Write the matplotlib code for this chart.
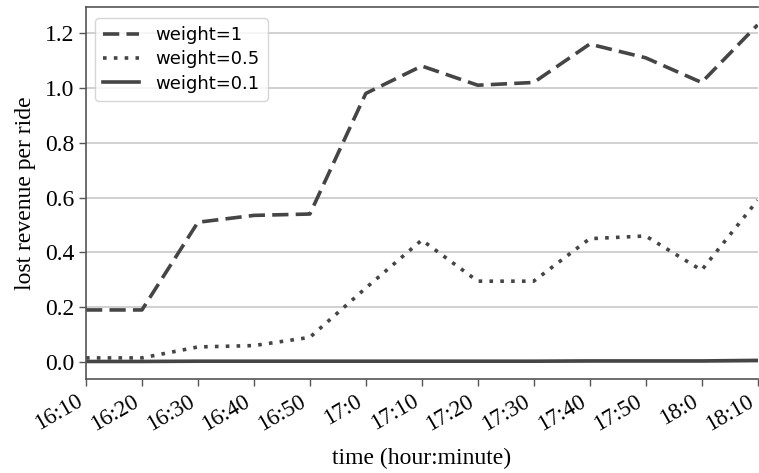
import matplotlib.pyplot as plt
import matplotlib.transforms as mtransforms
import numpy as np

labels = ["16:10", "16:20", "16:30", "16:40", "16:50", "17:0", "17:10",
          "17:20", "17:30", "17:40", "17:50", "18:0", "18:10"]
w1 = [0.19, 0.19, 0.51, 0.535, 0.54, 0.98, 1.08, 1.01, 1.02, 1.16, 1.11, 1.02, 1.23]
w05 = [0.015, 0.015, 0.055, 0.06, 0.09, 0.27, 0.445, 0.295, 0.295, 0.45, 0.46, 0.335, 0.59]
w01 = [0.002, 0.002, 0.003, 0.003, 0.003, 0.003, 0.003, 0.003, 0.003, 0.004, 0.004, 0.004, 0.006]

x = np.arange(len(labels))
col = '#454545'
serif = 'Liberation Serif'

fig = plt.figure(figsize=(7.59, 4.73), dpi=100)
ax = fig.add_axes([0.1133, 0.1987, 0.8848, 0.7863])

ax.plot(x, w1, linestyle=(0, (4.5, 2)), color=col, linewidth=2.6, label='weight=1')
ax.plot(x, w05, linestyle=(0, (1, 2)), color=col, linewidth=2.6, label='weight=0.5')
ax.plot(x, w01, linestyle='-', color=col, linewidth=2.6, label='weight=0.1')

ax.set_xlim(0, 12)
ax.set_ylim(-0.062, 1.295)
ax.set_yticks([0.0, 0.2, 0.4, 0.6, 0.8, 1.0, 1.2])
ax.set_xticks(x)
ax.set_xticklabels(labels, rotation=30, ha='right', family=serif, fontsize=16.5)
# nudge rotated labels a little to the left of their ticks
shift = mtransforms.ScaledTranslation(-5 / 72, 0, fig.dpi_scale_trans)
for t in ax.get_xticklabels():
    t.set_transform(t.get_transform() + shift)
for t in ax.get_yticklabels():
    t.set_family(serif)
    t.set_fontsize(17)
ax.yaxis.grid(True, color='#c8c8c8', linewidth=1.2)
ax.set_axisbelow(True)
for s in ax.spines.values():
    s.set_color('#555555')
    s.set_linewidth(1.2)
ax.spines['right'].set_visible(False)
ax.tick_params(color='#555555', width=1.0, length=5)

ax.set_xlabel('time (hour:minute)', family=serif, fontsize=17, labelpad=9)
ax.set_ylabel('lost revenue per ride', family=serif, fontsize=17, labelpad=6)

ax.legend(loc='upper left', fontsize=13, handlelength=2.0, framealpha=0.8,
          borderpad=0.45, labelspacing=0.35, handletextpad=0.9,
          bbox_to_anchor=(0.0, 0.995))

plt.savefig('out.png', dpi=100)
